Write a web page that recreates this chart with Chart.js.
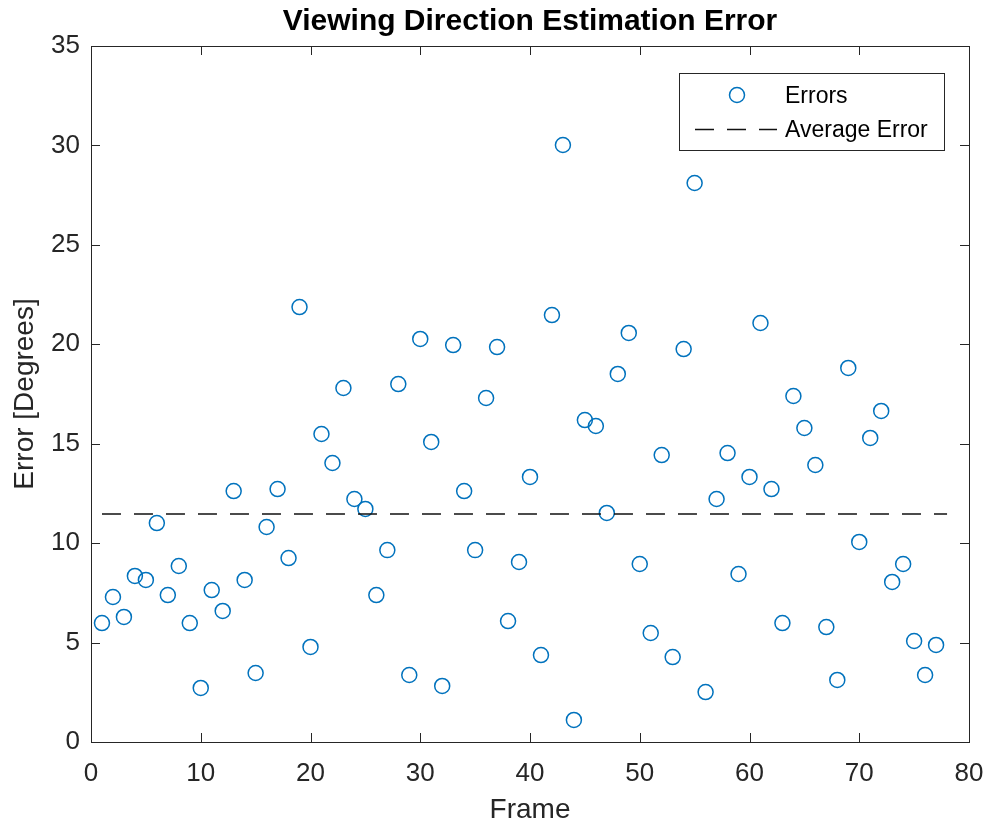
<!DOCTYPE html>
<html>
<head>
<meta charset="utf-8">
<title>Viewing Direction Estimation Error</title>
<script src="https://cdn.jsdelivr.net/npm/chart.js@4"></script>
<style>
  html, body { margin: 0; padding: 0; background: #fff; }
  #wrap { width: 989px; height: 830px; position: relative; }
</style>
</head>
<body>
<div id="wrap"><canvas id="errChart"></canvas></div>
<script>
// frame index and estimation error (degrees) per frame
const frames = [
  1, 2, 3, 4, 5, 6, 7, 8, 9, 10, 11, 12, 13, 14, 15, 16, 17, 18, 19, 20,
  21, 22, 23, 24, 25, 26, 27, 28, 29, 30, 31, 32, 33, 34, 35, 36, 37, 38, 39, 40,
  41, 42, 43, 44, 45, 46, 47, 48, 49, 50, 51, 52, 53, 54, 55, 56, 57, 58, 59, 60,
  61, 62, 63, 64, 65, 66, 67, 68, 69, 70, 71, 72, 73, 74, 75, 76, 77
];
const errors = [
  5.98, 7.29, 6.29, 8.35, 8.15, 11.01, 7.39, 8.85, 5.98, 2.72,
  7.64, 6.59, 12.62, 8.15, 3.47, 10.81, 12.72, 9.25, 21.87, 4.78,
  15.49, 14.03, 17.80, 12.22, 11.72, 7.39, 9.65, 18.00, 3.37, 20.27,
  15.09, 2.82, 19.96, 12.62, 9.65, 17.30, 19.86, 6.08, 9.05, 13.33,
  4.37, 21.47, 30.02, 1.11, 16.19, 15.89, 11.52, 18.51, 20.57, 8.95,
  5.48, 14.43, 4.27, 19.76, 28.11, 2.51, 12.22, 14.53, 8.45, 13.33,
  21.07, 12.72, 5.98, 17.40, 15.79, 13.93, 5.78, 3.12, 18.81, 10.06,
  15.29, 16.65, 8.05, 8.95, 5.08, 3.37, 4.88
];
// mean error, drawn as a dashed line across the frames
const averageError = 11.47;
const averageSpan = [1, 78];

const xTicks = [0, 10, 20, 30, 40, 50, 60, 70, 80];
const yTicks = [0, 5, 10, 15, 20, 25, 30, 35];

const FONT = "'Liberation Sans', Arial, Helvetica, sans-serif";
const AXIS_COLOR = "#262626";
const MARKER_COLOR = "#0072BD";

// box around the axes plus inward tick marks on all four sides
const boxPlugin = {
  id: "boxAxes",
  afterDatasetsDraw(chart) {
    const { ctx, chartArea: a, scales } = chart;
    const tl = 9;
    ctx.save();
    ctx.strokeStyle = AXIS_COLOR;
    ctx.lineWidth = 1;
    ctx.beginPath();
    xTicks.forEach(v => {
      const px = Math.round(scales.x.getPixelForValue(v)) + 0.5;
      ctx.moveTo(px, a.bottom); ctx.lineTo(px, a.bottom - tl);
      ctx.moveTo(px, a.top); ctx.lineTo(px, a.top + tl);
    });
    yTicks.forEach(v => {
      const py = Math.round(scales.y.getPixelForValue(v)) + 0.5;
      ctx.moveTo(a.left, py); ctx.lineTo(a.left + tl, py);
      ctx.moveTo(a.right, py); ctx.lineTo(a.right - tl, py);
    });
    ctx.stroke();
    ctx.strokeRect(Math.round(a.left) + 0.5, Math.round(a.top) + 0.5,
      Math.round(a.right - a.left), Math.round(a.bottom - a.top));
    ctx.restore();
  }
};

// title, axis labels and the boxed legend in the upper right
const textPlugin = {
  id: "labels",
  afterDraw(chart) {
    const { ctx, chartArea: a } = chart;
    ctx.save();
    ctx.fillStyle = "#000";
    ctx.textAlign = "center";
    ctx.textBaseline = "middle";
    ctx.font = "bold 30px " + FONT;
    ctx.fillText("Viewing Direction Estimation Error", (a.left + a.right) / 2, 22);

    ctx.fillStyle = AXIS_COLOR;
    ctx.font = "28px " + FONT;
    ctx.fillText("Frame", (a.left + a.right) / 2, 810);
    ctx.translate(25, (a.top + a.bottom) / 2);
    ctx.rotate(-Math.PI / 2);
    ctx.fillText("Error [Degrees]", 0, 0);
    ctx.setTransform(1, 0, 0, 1, 0, 0);

    // legend
    const lx = 679.5, ly = 73.5, lw = 265, lh = 77;
    ctx.fillStyle = "#fff";
    ctx.fillRect(lx, ly, lw, lh);
    ctx.strokeStyle = AXIS_COLOR;
    ctx.lineWidth = 1;
    ctx.strokeRect(lx, ly, lw, lh);

    const ds = chart.data.datasets;
    const errSet = ds.find(d => d.label === "Errors");
    const avgSet = ds.find(d => d.label === "Average Error");

    ctx.strokeStyle = errSet.borderColor;
    ctx.lineWidth = errSet.borderWidth;
    ctx.beginPath();
    ctx.arc(737, 95, errSet.pointRadius, 0, Math.PI * 2);
    ctx.stroke();

    ctx.strokeStyle = avgSet.borderColor;
    ctx.lineWidth = avgSet.borderWidth;
    ctx.setLineDash(avgSet.borderDash);
    ctx.beginPath();
    ctx.moveTo(695, 129.5);
    ctx.lineTo(777, 129.5);
    ctx.stroke();
    ctx.setLineDash([]);

    ctx.fillStyle = "#000";
    ctx.textAlign = "left";
    ctx.font = "23px " + FONT;
    ctx.fillText(errSet.label, 785, 97);
    ctx.fillText(avgSet.label, 785, 131);
    ctx.restore();
  }
};

const errorPoints = frames.map((f, i) => ({ x: f, y: errors[i] }));
const averagePoints = averageSpan.map(f => ({ x: f, y: averageError }));

new Chart(document.getElementById("errChart"), {
  type: "scatter",
  data: {
    datasets: [
      {
        label: "Errors",
        data: errorPoints,
        pointStyle: "circle",
        pointRadius: 7.5,
        pointHoverRadius: 7.5,
        borderWidth: 1.5,
        borderColor: MARKER_COLOR,
        backgroundColor: "rgba(0,0,0,0)",
        order: 1
      },
      {
        label: "Average Error",
        type: "line",
        data: averagePoints,
        borderColor: "#111",
        borderWidth: 1.5,
        borderDash: [19, 13],
        pointRadius: 0,
        fill: false,
        order: 0
      }
    ]
  },
  options: {
    responsive: true,
    maintainAspectRatio: false,
    animation: false,
    events: [],
    layout: { padding: { left: 0, right: 20, top: 46, bottom: 0 } },
    plugins: {
      legend: { display: false },
      title: { display: false },
      tooltip: { enabled: false }
    },
    scales: {
      x: {
        type: "linear",
        min: 0,
        max: 80,
        afterBuildTicks: s => { s.ticks = xTicks.map(v => ({ value: v })); },
        afterFit: s => { s.height = 88; s.paddingLeft = 0; s.paddingRight = 0; },
        grid: { display: false },
        border: { display: false },
        ticks: { color: AXIS_COLOR, font: { family: FONT, size: 26 }, padding: 8, maxRotation: 0 }
      },
      y: {
        type: "linear",
        min: 0,
        max: 35,
        afterBuildTicks: s => { s.ticks = yTicks.map(v => ({ value: v })); },
        afterFit: s => { s.width = 91; s.paddingTop = 0; s.paddingBottom = 0; },
        grid: { display: false },
        border: { display: false },
        ticks: { color: AXIS_COLOR, font: { family: FONT, size: 26 }, padding: 3 }
      }
    }
  },
  plugins: [boxPlugin, textPlugin]
});
</script>
</body>
</html>
